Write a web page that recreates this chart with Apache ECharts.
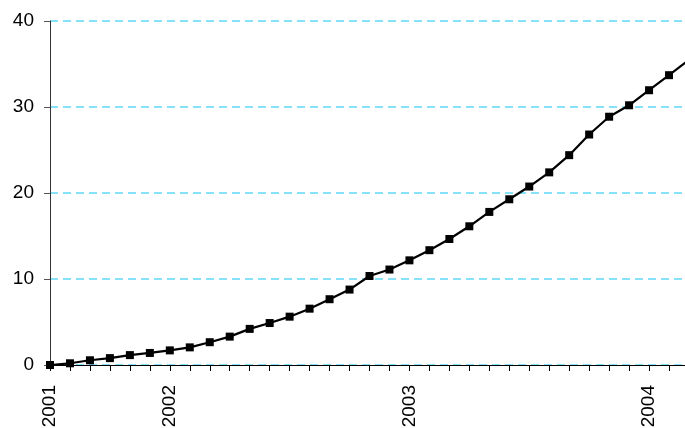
<!DOCTYPE html>
<html>
<head>
<meta charset="utf-8">
<script src="https://cdn.jsdelivr.net/npm/echarts@6/dist/echarts.min.js"></script>
<style>
html,body{margin:0;padding:0;background:#fff;overflow:hidden}
#c{width:685px;height:428px}
</style>
</head>
<body>
<div id="c"></div>
<script>
const months = [
  '2001-07','2001-08','2001-09','2001-10','2001-11','2001-12',
  '2002-01','2002-02','2002-03','2002-04','2002-05','2002-06',
  '2002-07','2002-08','2002-09','2002-10','2002-11','2002-12',
  '2003-01','2003-02','2003-03','2003-04','2003-05','2003-06',
  '2003-07','2003-08','2003-09','2003-10','2003-11','2003-12',
  '2004-01','2004-02','2004-03'
];
const values = [
  0.0, 0.2, 0.55, 0.8, 1.15, 1.4,
  1.7, 2.05, 2.65, 3.3, 4.2, 4.88,
  5.62, 6.55, 7.65, 8.77, 10.35, 11.1,
  12.17, 13.35, 14.65, 16.13, 17.8, 19.27,
  20.75, 22.4, 24.4, 26.8, 28.87, 30.2,
  31.95, 33.7, 35.5
];
const labelIndexes = [0, 6, 18, 30];
const tickLabels = ['2001', '2002', '2003', '2004'];
const yTicks = [0, 10, 20, 30, 40];

const chart = echarts.init(document.getElementById('c'), null, {renderer: 'canvas'});
chart.setOption({
  animation: false,
  grid: {left: 50, right: -4, top: 21, bottom: 63, containLabel: false, outerBoundsMode: 'none'},
  xAxis: {
    type: 'category',
    data: months,
    boundaryGap: false,
    axisLine: {lineStyle: {color: '#000', width: 1}},
    axisTick: {show: true, interval: 0, length: 6, lineStyle: {color: '#000'}},
    axisLabel: {
      interval: 0,
      rotate: 90,
      margin: 20,
      color: '#000',
      fontFamily: 'Liberation Sans, Arial, sans-serif',
      fontSize: 19,
      formatter: function (v, i) {
        const k = labelIndexes.indexOf(i);
        return k >= 0 ? tickLabels[k] : '';
      }
    },
    splitLine: {show: false}
  },
  yAxis: {
    type: 'value',
    min: yTicks[0],
    max: yTicks[yTicks.length - 1],
    interval: 10,
    axisLine: {show: true, lineStyle: {color: '#333', width: 1}},
    axisTick: {show: true, length: 6, lineStyle: {color: '#555'}},
    axisLabel: {
      margin: 16,
      color: '#000',
      fontFamily: 'Liberation Sans, Arial, sans-serif',
      fontSize: 19
    },
    splitLine: {show: true, lineStyle: {color: '#5fd8f7', type: [8, 5], width: 1.5}}
  },
  series: [{
    type: 'line',
    data: values,
    symbol: 'rect',
    symbolSize: 8,
    itemStyle: {color: '#000'},
    lineStyle: {color: '#000', width: 2.2},
    clip: false
  }]
});
</script>
</body>
</html>
